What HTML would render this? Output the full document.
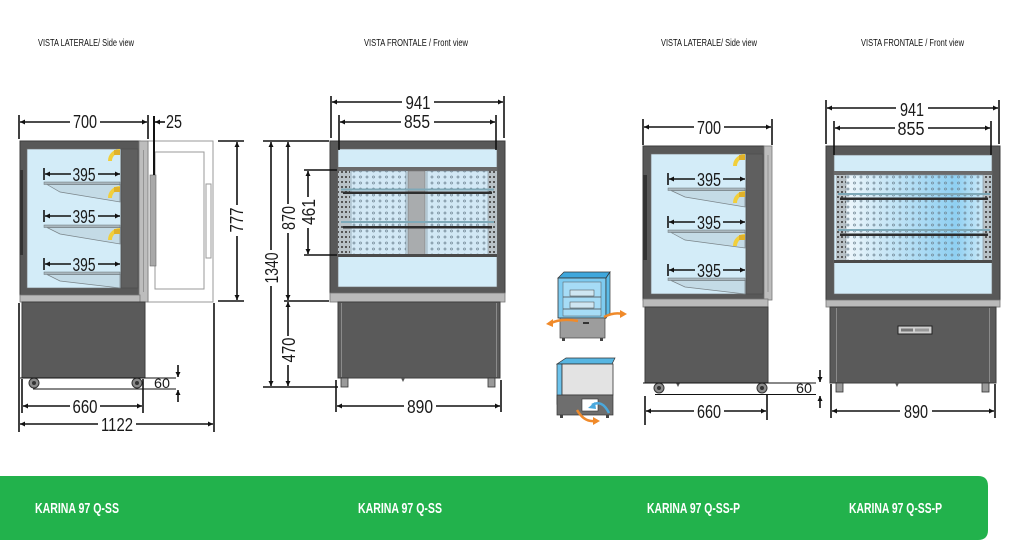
<!DOCTYPE html>
<html><head><meta charset="utf-8"><style>
html,body{margin:0;padding:0;background:#fff;}
svg{display:block;}
.d{stroke:#111;stroke-width:1.6;fill:none;}
.t{stroke:#111;stroke-width:1.6;}
.n{font-family:"Liberation Sans",sans-serif;font-size:18px;fill:#1a1a1a;}
.h{font-family:"Liberation Sans",sans-serif;font-size:10.5px;fill:#111;}
.g{font-family:"Liberation Sans",sans-serif;font-size:15px;font-weight:bold;fill:#fff;}
.body{fill:#585858;stroke:#3c3c3c;stroke-width:1;}
.blue{fill:#d3ecf8;stroke:#6a6a6a;stroke-width:.6;}
.bar{fill:#bababa;stroke:#777;stroke-width:.8;}
.base{fill:#5a5a5a;stroke:#3e3e3e;stroke-width:1;}
.plate{fill:#a9b6bd;stroke:#6a7479;stroke-width:.5;}
.brk{fill:#c4dbe6;stroke:#7a8489;stroke-width:.7;}
.yl{fill:none;stroke:#f1cf3c;stroke-width:4;}
</style></head><body>
<svg width="1013" height="550" viewBox="0 0 1013 550" xmlns="http://www.w3.org/2000/svg">
<defs>
<marker id="a" viewBox="0 0 10 10" refX="10" refY="5" markerWidth="7" markerHeight="5" orient="auto-start-reverse" markerUnits="userSpaceOnUse"><path d="M0,0 L10,5 L0,10z" fill="#111"/></marker>
<pattern id="dots" width="6.5" height="6" patternUnits="userSpaceOnUse"><circle cx="3" cy="3" r="1" fill="none" stroke="#6f8593" stroke-width=".7"/></pattern>
<pattern id="rail" width="4" height="5" patternUnits="userSpaceOnUse"><rect x="1" y="1" width="2" height="2" fill="#555"/></pattern>
<linearGradient id="gb" x1="0" x2="1" y1="0" y2="0">
<stop offset="0" stop-color="#eef7fc"/><stop offset=".25" stop-color="#cde8f6"/><stop offset=".8" stop-color="#8fd0f2"/><stop offset="1" stop-color="#cbe9f8"/></linearGradient>
</defs>

<!-- headers -->
<text class="h" x="38" y="46" textLength="96" lengthAdjust="spacingAndGlyphs">VISTA LATERALE/ Side view</text>
<text class="h" x="364" y="46" textLength="104" lengthAdjust="spacingAndGlyphs">VISTA FRONTALE / Front view</text>
<text class="h" x="661" y="46" textLength="96" lengthAdjust="spacingAndGlyphs">VISTA LATERALE/ Side view</text>
<text class="h" x="861" y="46" textLength="103" lengthAdjust="spacingAndGlyphs">VISTA FRONTALE / Front view</text>

<!-- ===== Drawing 1: side view ===== -->
<rect x="148" y="141" width="65" height="161" fill="#fff" stroke="#9a9a9a"/>
<rect x="155" y="152" width="49" height="137" fill="none" stroke="#9a9a9a"/>
<rect x="206" y="184" width="5" height="74" fill="none" stroke="#9a9a9a"/>
<rect x="150" y="175" width="6" height="91" fill="#a8a8a8" stroke="#666" stroke-width=".6"/>
<rect class="body" x="20" y="141" width="120" height="154"/>
<rect x="20" y="170" width="3" height="85" fill="#333"/>
<rect class="blue" x="27" y="149" width="94" height="139"/>
<rect x="121" y="149" width="17" height="139" fill="#5f5f5f" stroke="#4a4a4a" stroke-width=".6"/>
<rect x="139" y="141" width="9" height="161" fill="#bdbdbd" stroke="#777" stroke-width=".8"/>
<line x1="143.5" y1="150" x2="143.5" y2="292" stroke="#8a8a8a" stroke-width=".8"/>
<rect class="bar" x="20" y="295" width="120" height="7"/>
<rect class="base" x="22" y="302" width="123" height="76"/>
<circle cx="34" cy="383" r="5" fill="#8a8a8a" stroke="#333"/><circle cx="34" cy="383" r="2" fill="#333"/>
<circle cx="137" cy="383" r="5" fill="#8a8a8a" stroke="#333"/><circle cx="137" cy="383" r="2" fill="#333"/>
<polygon class="brk" points="47,184.5 60,192 120,202 120,184.5"/>
<rect class="plate" x="44" y="182" width="76" height="2.5"/>
<polygon class="brk" points="47,227.5 60,234 120,244 120,227.5"/>
<rect class="plate" x="44" y="225" width="76" height="2.5"/>
<polygon class="brk" points="47,274.5 60,281 120,288 120,274.5"/>
<rect class="plate" x="44" y="272" width="76" height="2.5"/>
<path class="yl" d="M120,151 A10,10 0 0 0 110,161"/>
<path class="yl" d="M120,188 A10,10 0 0 0 110,198"/>
<path class="yl" d="M120,230 A10,10 0 0 0 110,240"/>
<rect x="114" y="150" width="6" height="5" fill="#e0b12a"/>
<rect x="114" y="187" width="6" height="5" fill="#e0b12a"/>
<rect x="114" y="229" width="6" height="5" fill="#e0b12a"/>
<line class="t" x1="44" y1="168" x2="44" y2="180"/><line class="d" x1="45" y1="174" x2="120" y2="174" marker-start="url(#a)" marker-end="url(#a)"/>
<rect x="71" y="166" width="27" height="15" fill="#d3ecf8"/><text class="n" x="84" y="181" text-anchor="middle" textLength="23" lengthAdjust="spacingAndGlyphs">395</text>
<line class="t" x1="44" y1="210" x2="44" y2="222"/><line class="d" x1="45" y1="216" x2="120" y2="216" marker-start="url(#a)" marker-end="url(#a)"/>
<rect x="71" y="208" width="27" height="15" fill="#d3ecf8"/><text class="n" x="84" y="223" text-anchor="middle" textLength="23" lengthAdjust="spacingAndGlyphs">395</text>
<line class="t" x1="44" y1="258" x2="44" y2="270"/><line class="d" x1="45" y1="264" x2="120" y2="264" marker-start="url(#a)" marker-end="url(#a)"/>
<rect x="71" y="256" width="27" height="15" fill="#d3ecf8"/><text class="n" x="84" y="271" text-anchor="middle" textLength="23" lengthAdjust="spacingAndGlyphs">395</text>
<line class="t" x1="19" y1="115" x2="19" y2="139"/><line class="t" x1="148" y1="115" x2="148" y2="139"/>
<line class="d" x1="20" y1="122" x2="147" y2="122" marker-start="url(#a)" marker-end="url(#a)"/>
<rect x="70" y="113" width="30" height="17" fill="#fff"/><text class="n" x="85" y="128" text-anchor="middle" textLength="24" lengthAdjust="spacingAndGlyphs">700</text>
<line x1="154" y1="116" x2="154" y2="175" stroke="#111" stroke-width="2"/>
<line class="d" x1="165" y1="122" x2="155" y2="122" marker-end="url(#a)"/>
<text class="n" x="174" y="128" text-anchor="middle" textLength="16" lengthAdjust="spacingAndGlyphs">25</text>
<line class="t" x1="218" y1="141" x2="244" y2="141"/><line class="t" x1="218" y1="301" x2="244" y2="301"/>
<line class="d" x1="237" y1="142" x2="237" y2="300" marker-start="url(#a)" marker-end="url(#a)"/>
<rect x="229" y="205" width="16" height="31" fill="#fff"/>
<text class="n" transform="translate(243,220) rotate(-90)" x="0" y="0" text-anchor="middle" textLength="25" lengthAdjust="spacingAndGlyphs">777</text>
<line x1="20" y1="378" x2="176" y2="378" stroke="#111" stroke-width="1"/>
<line x1="33" y1="389" x2="176" y2="389" stroke="#111" stroke-width="1"/>
<line class="d" x1="178" y1="365" x2="178" y2="377" marker-end="url(#a)"/>
<line class="d" x1="178" y1="402" x2="178" y2="390" marker-end="url(#a)"/>
<text class="n" style="font-size:14px" x="162" y="388" text-anchor="middle" textLength="16" lengthAdjust="spacingAndGlyphs">60</text>
<line class="t" x1="22" y1="379" x2="22" y2="413"/><line class="t" x1="143" y1="379" x2="143" y2="413"/>
<line class="d" x1="23" y1="406" x2="142" y2="406" marker-start="url(#a)" marker-end="url(#a)"/>
<rect x="70" y="397" width="30" height="17" fill="#fff"/><text class="n" x="85" y="413" text-anchor="middle" textLength="25" lengthAdjust="spacingAndGlyphs">660</text>
<line class="t" x1="19" y1="303" x2="19" y2="432"/><line class="t" x1="214" y1="303" x2="214" y2="432"/>
<line class="d" x1="20" y1="424" x2="213" y2="424" marker-start="url(#a)" marker-end="url(#a)"/>
<rect x="98" y="415" width="38" height="17" fill="#fff"/><text class="n" x="117" y="431" text-anchor="middle" textLength="32" lengthAdjust="spacingAndGlyphs">1122</text>

<!-- ===== Drawing 2: front view ===== -->
<rect class="body" x="330" y="141" width="175" height="152"/>
<rect class="blue" x="338" y="149" width="159" height="138"/>
<rect x="338" y="168" width="159" height="88" fill="#c9dfeb"/>
<rect x="338" y="167" width="159" height="4" fill="#6a6a6a"/>
<rect x="338" y="171" width="12" height="85" fill="#b9c2c7"/><rect x="338" y="171" width="12" height="85" fill="url(#rail)"/>
<rect x="488" y="171" width="9" height="85" fill="#b9c2c7"/><rect x="488" y="171" width="9" height="85" fill="url(#rail)"/>
<rect x="351" y="171" width="55" height="85" fill="#d2e8f5" stroke="#7d8e98" stroke-width=".6"/>
<rect x="351" y="171" width="55" height="85" fill="url(#dots)"/>
<rect x="427" y="171" width="61" height="85" fill="#d2e8f5" stroke="#7d8e98" stroke-width=".6"/>
<rect x="427" y="171" width="61" height="85" fill="url(#dots)"/>
<rect x="408" y="171" width="17" height="85" fill="#a9acae" stroke="#777" stroke-width=".6"/>
<rect x="341" y="188.5" width="153" height="2" fill="#7fa9b8"/>
<rect x="343" y="191.5" width="149" height="2.5" fill="#2e2e2e"/>
<rect x="341" y="221" width="153" height="2" fill="#7fa9b8"/>
<rect x="343" y="226" width="149" height="2.5" fill="#2e2e2e"/>
<rect x="338" y="254" width="159" height="3" fill="#4a4a4a"/>
<rect class="bar" x="330" y="293" width="175" height="9"/>
<rect class="base" x="338" y="302" width="162" height="76"/>
<line x1="341.5" y1="303" x2="341.5" y2="377" stroke="#8a8a8a"/>
<line x1="496.5" y1="303" x2="496.5" y2="377" stroke="#8a8a8a"/>
<rect x="341" y="378" width="7" height="9" fill="#9a9a9a" stroke="#333" stroke-width=".8"/>
<rect x="488" y="378" width="7" height="9" fill="#9a9a9a" stroke="#333" stroke-width=".8"/>
<path d="M401,378 L405,378 L403,382z" fill="#555"/>
<line class="t" x1="331" y1="96" x2="331" y2="138"/><line class="t" x1="504" y1="96" x2="504" y2="138"/>
<line class="d" x1="332" y1="102" x2="503" y2="102" marker-start="url(#a)" marker-end="url(#a)"/>
<rect x="402" y="93" width="32" height="17" fill="#fff"/><text class="n" x="418" y="109" text-anchor="middle" textLength="25" lengthAdjust="spacingAndGlyphs">941</text>
<line class="t" x1="339" y1="115" x2="339" y2="150"/><line class="t" x1="496" y1="115" x2="496" y2="150"/>
<line class="d" x1="340" y1="122" x2="495" y2="122" marker-start="url(#a)" marker-end="url(#a)"/>
<rect x="401" y="113" width="33" height="17" fill="#fff"/><text class="n" x="417" y="128" text-anchor="middle" textLength="26" lengthAdjust="spacingAndGlyphs">855</text>
<line class="t" x1="263" y1="141" x2="329" y2="141"/>
<line class="t" x1="263" y1="387" x2="338" y2="387"/>
<line class="t" x1="284" y1="301" x2="329" y2="301"/>
<line class="d" x1="271" y1="142" x2="271" y2="386" marker-start="url(#a)" marker-end="url(#a)"/>
<rect x="263" y="250" width="16" height="36" fill="#fff"/>
<text class="n" transform="translate(278,268) rotate(-90)" text-anchor="middle" textLength="31" lengthAdjust="spacingAndGlyphs">1340</text>
<line class="d" x1="288" y1="142" x2="288" y2="300" marker-start="url(#a)" marker-end="url(#a)"/>
<rect x="280" y="204" width="16" height="29" fill="#fff"/>
<text class="n" transform="translate(295,218) rotate(-90)" text-anchor="middle" textLength="24" lengthAdjust="spacingAndGlyphs">870</text>
<line class="d" x1="288" y1="302" x2="288" y2="386" marker-start="url(#a)" marker-end="url(#a)"/>
<rect x="280" y="336" width="16" height="29" fill="#fff"/>
<text class="n" transform="translate(295,350) rotate(-90)" text-anchor="middle" textLength="25" lengthAdjust="spacingAndGlyphs">470</text>
<line class="t" x1="304" y1="170" x2="337" y2="170"/><line class="t" x1="304" y1="255" x2="337" y2="255"/>
<line class="d" x1="308" y1="171" x2="308" y2="254" marker-start="url(#a)" marker-end="url(#a)"/>
<rect x="300" y="197" width="16" height="31" fill="#fff"/>
<text class="n" transform="translate(315,212) rotate(-90)" text-anchor="middle" textLength="26" lengthAdjust="spacingAndGlyphs">461</text>
<line class="t" x1="336" y1="380" x2="336" y2="412"/><line class="t" x1="501" y1="380" x2="501" y2="412"/>
<line class="d" x1="337" y1="406" x2="500" y2="406" marker-start="url(#a)" marker-end="url(#a)"/>
<rect x="404" y="397" width="32" height="17" fill="#fff"/><text class="n" x="420" y="413" text-anchor="middle" textLength="26" lengthAdjust="spacingAndGlyphs">890</text>

<!-- ===== Icons ===== -->
<polygon points="558,278 564,272 610,272 606,278" fill="#3fa7dc" stroke="#333" stroke-width=".7"/>
<rect x="558" y="278" width="48" height="40" fill="#7ecbf0" stroke="#333" stroke-width=".8"/>
<rect x="563" y="282" width="38" height="34" fill="#a6dcf6" stroke="#555" stroke-width=".5"/>
<polygon points="606,278 610,272 610,313 606,318" fill="#5bbbe8" stroke="#333" stroke-width=".7"/>
<line x1="563" y1="297" x2="601" y2="297" stroke="#444" stroke-width=".8"/>
<line x1="563" y1="309" x2="601" y2="309" stroke="#444" stroke-width=".8"/>
<rect x="570" y="290" width="24" height="6" fill="#cfe6f2" stroke="#444" stroke-width=".5"/>
<rect x="570" y="302" width="24" height="6" fill="#cfe6f2" stroke="#444" stroke-width=".5"/>
<rect x="560" y="318" width="45" height="20" fill="#9d9d9d" stroke="#444" stroke-width=".7"/>
<rect x="583" y="322" width="6" height="2" fill="#333"/>
<rect x="562" y="338" width="3" height="3" fill="#444"/><rect x="600" y="338" width="3" height="3" fill="#444"/>
<path d="M578,321 Q562,318 551,323" fill="none" stroke="#f08a2a" stroke-width="2.5"/>
<path d="M546,324 L553,319 L553,327z" fill="#f08a2a"/>
<path d="M604,317 Q614,312 622,314" fill="none" stroke="#f08a2a" stroke-width="2.5"/>
<path d="M627,314 L620,310 L620,318z" fill="#f08a2a"/>
<polygon points="557,364 566,358 615,358 612,364" fill="#57b6e2" stroke="#333" stroke-width=".7"/>
<polygon points="557,364 562,364 562,400 557,404" fill="#6cc3ec" stroke="#333" stroke-width=".7"/>
<rect x="562" y="364" width="51" height="31" fill="#e3e3e3" stroke="#333" stroke-width=".8"/>
<rect x="557" y="395" width="56" height="20" fill="#6e6e6e" stroke="#333" stroke-width=".7"/>
<rect x="582" y="399" width="16" height="12" fill="#fff" stroke="#333" stroke-width=".6"/>
<rect x="560" y="415" width="3" height="3" fill="#444"/><rect x="606" y="415" width="3" height="3" fill="#444"/>
<path d="M609,413 Q602,399 592,405" fill="none" stroke="#4aa8dd" stroke-width="2.5"/>
<path d="M588,408 L595,402 L596,409z" fill="#4aa8dd"/>
<path d="M577,410 Q584,422 594,421" fill="none" stroke="#f08a2a" stroke-width="2.5"/>
<path d="M600,421 L593,417 L593,425z" fill="#f08a2a"/>

<!-- ===== Drawing 4: side view P ===== -->
<rect class="body" x="643" y="146" width="121" height="154"/>
<rect x="643" y="175" width="4" height="85" fill="#333"/>
<rect class="blue" x="651" y="154" width="95" height="140"/>
<rect x="746" y="154" width="17" height="140" fill="#5f5f5f" stroke="#4a4a4a" stroke-width=".6"/>
<rect x="764" y="146" width="8" height="154" fill="#bdbdbd" stroke="#777" stroke-width=".8"/>
<line x1="768" y1="155" x2="768" y2="292" stroke="#8a8a8a" stroke-width=".8"/>
<rect class="bar" x="643" y="299" width="125" height="8"/>
<rect class="base" x="645" y="307" width="123" height="76"/>
<circle cx="659" cy="388" r="5" fill="#8a8a8a" stroke="#333"/><circle cx="659" cy="388" r="2" fill="#333"/>
<circle cx="762" cy="388" r="5" fill="#8a8a8a" stroke="#333"/><circle cx="762" cy="388" r="2" fill="#333"/>
<path d="M676,383 L680,383 L678,387z" fill="#555"/>
<polygon class="brk" points="671,190.5 685,197 745,207 745,190.5"/>
<rect class="plate" x="668" y="188" width="77" height="2.5"/>
<polygon class="brk" points="671,232.5 685,240 745,248 745,232.5"/>
<rect class="plate" x="668" y="230" width="77" height="2.5"/>
<polygon class="brk" points="671,280.5 685,287 745,294 745,280.5"/>
<rect class="plate" x="668" y="278" width="77" height="2.5"/>
<path class="yl" d="M745,156 A10,10 0 0 0 735,166"/>
<path class="yl" d="M745,193 A10,10 0 0 0 735,203"/>
<path class="yl" d="M745,236 A10,10 0 0 0 735,246"/>
<rect x="739" y="155" width="6" height="5" fill="#e0b12a"/>
<rect x="739" y="192" width="6" height="5" fill="#e0b12a"/>
<rect x="739" y="235" width="6" height="5" fill="#e0b12a"/>
<line class="t" x1="668" y1="173" x2="668" y2="185"/><line class="d" x1="669" y1="179" x2="745" y2="179" marker-start="url(#a)" marker-end="url(#a)"/>
<rect x="695" y="171" width="28" height="15" fill="#d3ecf8"/><text class="n" x="709" y="186" text-anchor="middle" textLength="24" lengthAdjust="spacingAndGlyphs">395</text>
<line class="t" x1="668" y1="216" x2="668" y2="228"/><line class="d" x1="669" y1="222" x2="745" y2="222" marker-start="url(#a)" marker-end="url(#a)"/>
<rect x="695" y="214" width="28" height="15" fill="#d3ecf8"/><text class="n" x="709" y="229" text-anchor="middle" textLength="24" lengthAdjust="spacingAndGlyphs">395</text>
<line class="t" x1="668" y1="264" x2="668" y2="276"/><line class="d" x1="669" y1="270" x2="745" y2="270" marker-start="url(#a)" marker-end="url(#a)"/>
<rect x="695" y="262" width="28" height="15" fill="#d3ecf8"/><text class="n" x="709" y="277" text-anchor="middle" textLength="24" lengthAdjust="spacingAndGlyphs">395</text>
<line class="t" x1="643" y1="119" x2="643" y2="145"/><line class="t" x1="772" y1="119" x2="772" y2="145"/>
<line class="d" x1="644" y1="127" x2="771" y2="127" marker-start="url(#a)" marker-end="url(#a)"/>
<rect x="694" y="118" width="30" height="17" fill="#fff"/><text class="n" x="709" y="134" text-anchor="middle" textLength="24" lengthAdjust="spacingAndGlyphs">700</text>
<line x1="643" y1="383" x2="816" y2="383" stroke="#111" stroke-width="1"/>
<line x1="655" y1="394.5" x2="816" y2="394.5" stroke="#111" stroke-width="1"/>
<line class="d" x1="820" y1="370" x2="820" y2="382" marker-end="url(#a)"/>
<line class="d" x1="820" y1="408" x2="820" y2="396" marker-end="url(#a)"/>
<text class="n" style="font-size:14px" x="804" y="393" text-anchor="middle" textLength="16" lengthAdjust="spacingAndGlyphs">60</text>
<line class="t" x1="645" y1="396" x2="645" y2="425"/><line class="t" x1="767" y1="394" x2="767" y2="420"/>
<line class="d" x1="646" y1="411" x2="766" y2="411" marker-start="url(#a)" marker-end="url(#a)"/>
<rect x="694" y="402" width="30" height="17" fill="#fff"/><text class="n" x="709" y="418" text-anchor="middle" textLength="24" lengthAdjust="spacingAndGlyphs">660</text>

<!-- ===== Drawing 5: front view P ===== -->
<rect class="body" x="826" y="146" width="174" height="154"/>
<rect class="blue" x="834" y="155" width="158" height="139"/>
<rect x="834" y="171" width="158" height="4" fill="#6a6a6a"/>
<rect x="836" y="175" width="10" height="86" fill="#b9c2c7"/><rect x="836" y="175" width="10" height="86" fill="url(#rail)"/>
<rect x="983" y="175" width="8" height="86" fill="#b9c2c7"/><rect x="983" y="175" width="8" height="86" fill="url(#rail)"/>
<rect x="846" y="175" width="137" height="86" fill="url(#gb)" stroke="#7d8e98" stroke-width=".6"/>
<rect x="846" y="175" width="137" height="86" fill="url(#dots)"/>
<rect x="838" y="193" width="152" height="2" fill="#7fa9b8"/>
<rect x="840" y="197.5" width="148" height="2.5" fill="#2e2e2e"/>
<rect x="838" y="229" width="152" height="2" fill="#7fa9b8"/>
<rect x="840" y="233.5" width="148" height="2.5" fill="#2e2e2e"/>
<rect x="834" y="260" width="158" height="3" fill="#4a4a4a"/>
<rect class="bar" x="826" y="300" width="174" height="7"/>
<rect class="base" x="830" y="307" width="166" height="76"/>
<line x1="836.5" y1="308" x2="836.5" y2="382" stroke="#8a8a8a"/>
<line x1="989.5" y1="308" x2="989.5" y2="382" stroke="#8a8a8a"/>
<rect x="898" y="326" width="34" height="8" fill="#cfcfcf" stroke="#222" stroke-width="1"/>
<rect x="901" y="328.5" width="12" height="3" fill="#777"/><rect x="915" y="328.5" width="14" height="3" fill="#999"/>
<rect x="836" y="383" width="7" height="9" fill="#9a9a9a" stroke="#333" stroke-width=".8"/>
<rect x="982" y="383" width="7" height="9" fill="#9a9a9a" stroke="#333" stroke-width=".8"/>
<path d="M895,383 L899,383 L897,387z" fill="#555"/>
<line class="t" x1="826" y1="100" x2="826" y2="144"/><line class="t" x1="999" y1="100" x2="999" y2="144"/>
<line class="d" x1="827" y1="108" x2="998" y2="108" marker-start="url(#a)" marker-end="url(#a)"/>
<rect x="896" y="100" width="32" height="17" fill="#fff"/><text class="n" x="912" y="116" text-anchor="middle" textLength="24" lengthAdjust="spacingAndGlyphs">941</text>
<line class="t" x1="834" y1="121" x2="834" y2="155"/><line class="t" x1="991" y1="121" x2="991" y2="155"/>
<line class="d" x1="835" y1="128" x2="990" y2="128" marker-start="url(#a)" marker-end="url(#a)"/>
<rect x="895" y="120" width="33" height="16" fill="#fff"/><text class="n" x="911" y="135" text-anchor="middle" textLength="27" lengthAdjust="spacingAndGlyphs">855</text>
<line class="t" x1="831" y1="384" x2="831" y2="418"/><line class="t" x1="995" y1="384" x2="995" y2="418"/>
<line class="d" x1="832" y1="411" x2="994" y2="411" marker-start="url(#a)" marker-end="url(#a)"/>
<rect x="900" y="402" width="32" height="17" fill="#fff"/><text class="n" x="916" y="418" text-anchor="middle" textLength="24" lengthAdjust="spacingAndGlyphs">890</text>

<!-- ===== green band ===== -->
<path d="M0,476 L978,476 Q988,476 988,486 L988,530 Q988,540 978,540 L0,540z" fill="#22b24c"/>
<text class="g" x="35" y="513" textLength="84" lengthAdjust="spacingAndGlyphs">KARINA 97 Q-SS</text>
<text class="g" x="358" y="513" textLength="84" lengthAdjust="spacingAndGlyphs">KARINA 97 Q-SS</text>
<text class="g" x="647" y="513" textLength="93" lengthAdjust="spacingAndGlyphs">KARINA 97 Q-SS-P</text>
<text class="g" x="849" y="513" textLength="93" lengthAdjust="spacingAndGlyphs">KARINA 97 Q-SS-P</text>
</svg>
</body></html>
